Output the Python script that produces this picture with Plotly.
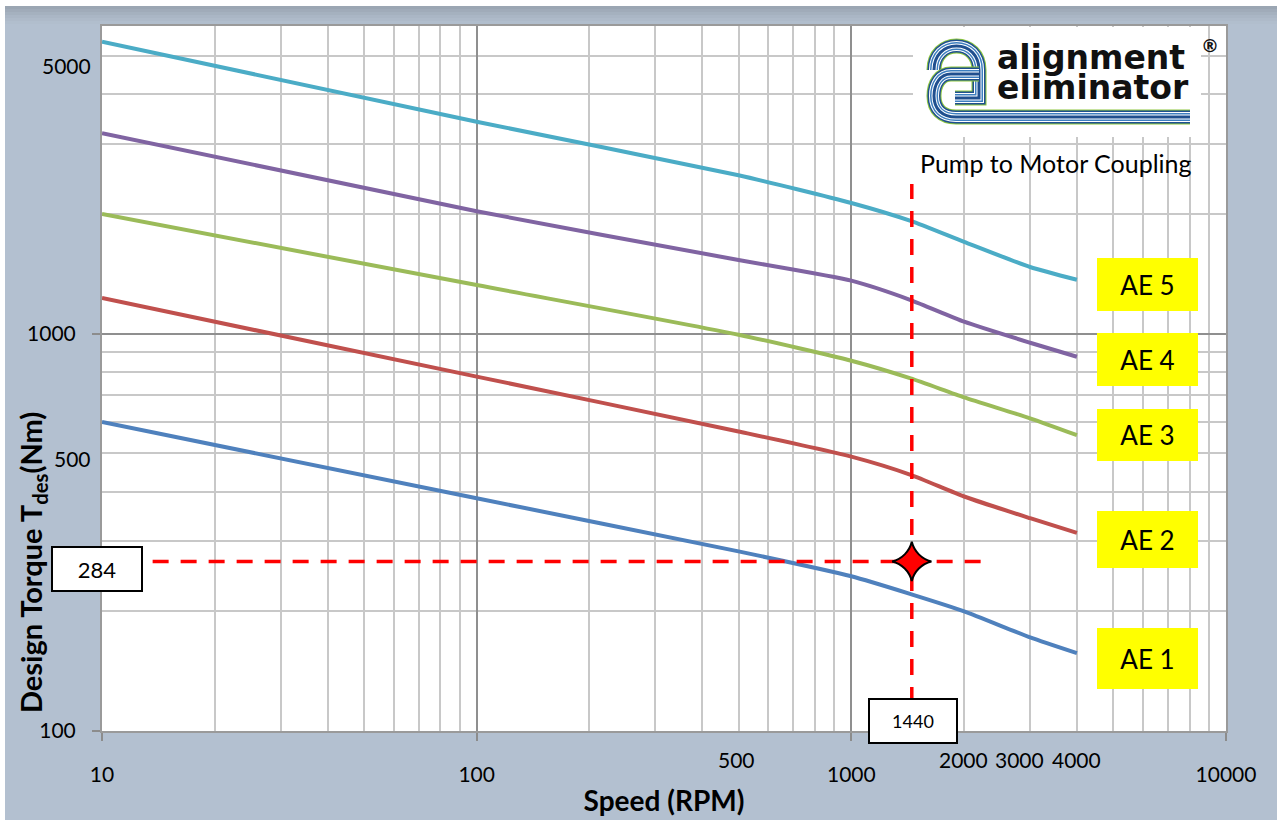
import math
import plotly.graph_objects as go

# ---------------- data ----------------
speed = [10, 100, 500, 1000, 1440, 2000, 3000, 4000]
ae1 = [599, 385, 283, 245, 221, 200, 172, 157]
ae2 = [1228, 779, 567, 490, 441, 389, 343, 315]
ae3 = [1998, 1324, 993, 854, 771, 691, 612, 555]
ae4 = [3190, 2030, 1531, 1358, 1214, 1071, 948, 874]
ae5 = [5420, 3410, 2500, 2130, 1920, 1700, 1470, 1365]
series_names = ["AE 1", "AE 2", "AE 3", "AE 4", "AE 5"]
series_colors = ["#4f81bd", "#c0504d", "#9bbb59", "#8064a2", "#4bacc6"]

x_tick_vals = [10, 100, 1000, 10000]
x_extra_labels = [500, 2000, 3000, 4000]
y_tick_vals = [100, 1000]
y_extra_labels = [500, 5000]

point_speed = 1450      # where the guide lines cross (as drawn)
point_torque = 267
point_speed_label = "1440"
point_torque_label = "284"
hguide_speed = [13.65, 2223]
vguide_torque = [100, 2378]

# ---------------- layout helpers ----------------
W, H = 1281, 822
L, R, T, B = 102, 55, 26, 91
PW, PH = W - L - R, H - T - B
FONT = "Lato"


def PX(px):
    return (px - L) / PW


def PY(py):
    return (H - B - py) / PH


fig = go.Figure()

for name, ys, col in zip(series_names, [ae1, ae2, ae3, ae4, ae5], series_colors):
    fig.add_trace(go.Scatter(x=speed, y=ys, mode="lines", name=name,
                             line=dict(color=col, width=4, shape="spline", smoothing=0.6),
                             showlegend=False, hoverinfo="x+y"))

# red guide lines
fig.add_trace(go.Scatter(x=hguide_speed, y=[point_torque, point_torque], mode="lines",
                         line=dict(color="#ff0000", width=3.5, dash="16px,12px"),
                         showlegend=False, hoverinfo="skip"))
fig.add_trace(go.Scatter(x=[point_speed, point_speed], y=vguide_torque, mode="lines",
                         line=dict(color="#ff0000", width=3.5, dash="16px,12px"),
                         showlegend=False, hoverinfo="skip"))
fig.add_trace(go.Scatter(x=[point_speed], y=[point_torque], mode="markers",
                         marker=dict(symbol="star-diamond", size=28, color="#ff0000",
                                     line=dict(color="black", width=2)),
                         showlegend=False, hoverinfo="skip"))

minor_x = [k * 10 ** d for d in range(1, 4) for k in range(2, 10)]
minor_y = [k * 10 ** d for d in range(2, 4) for k in range(2, 10) if k * 10 ** d < 6000]

fig.update_xaxes(type="log", range=[1, 4], tickvals=x_tick_vals,
                 ticktext=[str(v) for v in x_tick_vals],
                 ticks="outside", ticklen=8, tickcolor="#8c8c8c", tickwidth=1.5,
                 ticklabelstandoff=16,
                 showgrid=True, gridcolor="#8f8f8f", gridwidth=1.5,
                 minor=dict(tickvals=minor_x, showgrid=True, gridcolor="#c8c8c8", gridwidth=1.5, ticks=""),
                 showline=True, linecolor="#9a9a9a", linewidth=2, mirror=True,
                 tickfont=dict(family=FONT, size=21, color="black"),
                 title=dict(text="<b>Speed (RPM)</b>", font=dict(family=FONT, size=28, color="black"),
                            standoff=6),
                 automargin=False, zeroline=False)
fig.update_yaxes(type="log", range=[2, 2 + PH / 397.5], tickvals=y_tick_vals,
                 ticktext=[str(v) for v in y_tick_vals],
                 ticks="outside", ticklen=8, tickcolor="#8c8c8c", tickwidth=1.5,
                 ticklabelstandoff=12,
                 showgrid=True, gridcolor="#8f8f8f", gridwidth=1.5,
                 minor=dict(tickvals=minor_y, showgrid=True, gridcolor="#c8c8c8", gridwidth=1.5, ticks=""),
                 showline=True, linecolor="#9a9a9a", linewidth=2, mirror=True,
                 tickfont=dict(family=FONT, size=21, color="black"),
                 automargin=False, zeroline=False)

shapes = []
# white outer edges
for (x0, y0, x1, y1) in [(0, 0, 5, H), (0, 0, W, 6), (1277, 0, W, H), (0, 820, W, H)]:
    shapes.append(dict(type="rect", xref="paper", yref="paper", x0=PX(x0), x1=PX(x1),
                       y0=PY(y1), y1=PY(y0), fillcolor="white", line=dict(width=0), layer="below"))
# top gradient band
grad = ["#9ba6b3", "#a0abb9", "#a5b1bf", "#aab6c5", "#aebac9", "#b1becd"]
for i, c in enumerate(grad):
    y0 = 6 + i * 3
    shapes.append(dict(type="rect", xref="paper", yref="paper", x0=PX(5), x1=PX(1277),
                       y0=PY(y0 + 3), y1=PY(y0), fillcolor=c, line=dict(width=0), layer="below"))

# logo white box
shapes.append(dict(type="rect", xref="paper", yref="paper", x0=PX(913), x1=PX(1201),
                   y0=PY(137), y1=PY(27), fillcolor="white", line=dict(width=0), layer="above"))


def path(pts_cmds):
    out = []
    for cmd, pts in pts_cmds:
        coords = " ".join(f"{PX(x):.5f},{PY(y):.5f}" for x, y in pts)
        out.append(f"{cmd} {coords}")
    return " ".join(out)


arc_top = path([("M", [(934, 70)]), ("C", [(934, 55), (944, 46), (956.5, 46)]),
                ("C", [(969, 46), (979, 55), (979, 70)]), ("L", [(979, 98)]), ("L", [(955, 98)])])
bowl = path([("M", [(979, 74)]), ("L", [(951, 74)]), ("C", [(940, 74), (934, 84), (934, 96)]),
             ("C", [(934, 109), (942, 117), (956, 117)]), ("L", [(1190, 117)])])
layers = [("#8dc63f", 15), ("#1f4f8f", 13), ("white", 10), ("#3d7fc0", 8), ("white", 5), ("#1f4f8f", 3)]
for p in [arc_top, bowl]:
    for col, w in layers:
        shapes.append(dict(type="path", xref="paper", yref="paper", path=p,
                           line=dict(color=col, width=w), layer="above"))

annotations = []
y_label_pos = {500: 458, 5000: 66}
for v in y_extra_labels:
    annotations.append(dict(xref="paper", yref="paper", x=PX(93), y=PY(y_label_pos[v]), text=str(v),
                            xanchor="right", yanchor="middle", showarrow=False,
                            font=dict(family=FONT, size=21, color="black")))
x_label_shift = {500: -2, 2000: -1, 3000: -11, 4000: 0}
for v in x_extra_labels:
    annotations.append(dict(xref="x", yref="paper", x=math.log10(v), y=PY(759), text=str(v),
                            xanchor="center", yanchor="middle", showarrow=False, xshift=x_label_shift[v],
                            font=dict(family=FONT, size=21, color="black")))

annotations.append(dict(xref="paper", yref="paper", x=PX(32), y=PY(563), textangle=-90,
                        text="<b>Design Torque T<sub>des</sub>(Nm)</b>", showarrow=False,
                        xanchor="center", yanchor="middle",
                        font=dict(family=FONT, size=29, color="black")))

annotations.append(dict(xref="paper", yref="paper", x=PX(96.7), y=PY(569), text=point_torque_label,
                        showarrow=False, xanchor="center", yanchor="middle", width=88, height=42,
                        bgcolor="white", bordercolor="black", borderwidth=2, borderpad=0,
                        font=dict(family=FONT, size=22, color="black")))
annotations.append(dict(xref="paper", yref="paper", x=PX(913), y=PY(720.5), text=point_speed_label,
                        showarrow=False, xanchor="center", yanchor="middle", width=86, height=42,
                        bgcolor="white", bordercolor="black", borderwidth=2, borderpad=0,
                        font=dict(family=FONT, size=18, color="black")))

ae_boxes = {"AE 5": (284.5, 53), "AE 4": (359.5, 53), "AE 3": (435, 52), "AE 2": (539.5, 57), "AE 1": (658.5, 61)}
for name, (cy, h) in ae_boxes.items():
    annotations.append(dict(xref="paper", yref="paper", x=PX(1147.5), y=PY(cy), text=name,
                            showarrow=False, xanchor="center", yanchor="middle", width=101, height=h,
                            bgcolor="#ffff00", borderpad=0, borderwidth=0,
                            font=dict(family=FONT, size=26, color="black")))

annotations.append(dict(xref="paper", yref="paper", x=PX(995), y=PY(58), text="<b>alignment</b>",
                        showarrow=False, xanchor="left", yanchor="middle",
                        font=dict(family="DejaVu Sans", size=33, color="#111111")))
annotations.append(dict(xref="paper", yref="paper", x=PX(995), y=PY(87), text="<b>eliminator</b>",
                        showarrow=False, xanchor="left", yanchor="middle",
                        font=dict(family="DejaVu Sans", size=33, color="#111111")))
annotations.append(dict(xref="paper", yref="paper", x=PX(1210), y=PY(45), text="<b>®</b>",
                        showarrow=False, xanchor="center", yanchor="middle",
                        font=dict(family="DejaVu Sans", size=18, color="#111111")))
annotations.append(dict(xref="paper", yref="paper", x=PX(1056), y=PY(163), text="Pump to Motor Coupling",
                        showarrow=False, xanchor="center", yanchor="middle",
                        font=dict(family=FONT, size=25, color="black")))

fig.update_layout(width=W, height=H, margin=dict(l=L, r=R, t=T, b=B, autoexpand=False),
                  paper_bgcolor="#b3c0d0", plot_bgcolor="white",
                  shapes=shapes, annotations=annotations, showlegend=False,
                  font=dict(family=FONT))

fig.write_html("out.html", config={"displayModeBar": False},
               post_script="document.body.style.margin='0px';")
